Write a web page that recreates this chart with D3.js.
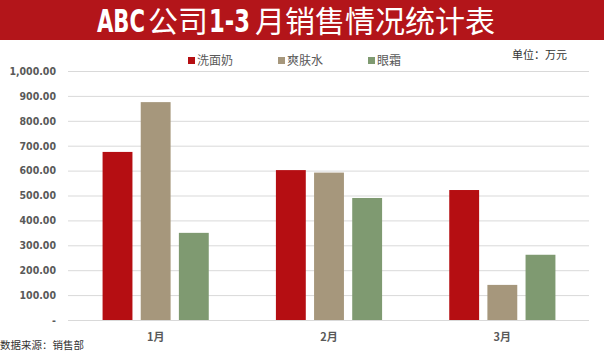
<!DOCTYPE html>
<html><head><meta charset="utf-8">
<script src="https://cdn.jsdelivr.net/npm/d3@7"></script>
<style>
html,body{margin:0;padding:0;background:#fff;}
svg{display:block;}
</style></head>
<body>
<svg id="c" width="604" height="353"></svg>
<script>
const categories = ["1月", "2月", "3月"];
const seriesNames = ["洗面奶", "爽肤水", "眼霜"];
const cleanser = [675, 602, 522];
const toner = [875, 592, 141];
const eyeCream = [350, 490, 262];
const yTicks = [0, 100, 200, 300, 400, 500, 600, 700, 800, 900, 1000];
const colors = ["#B50E12", "#A6977C", "#7F9A71"];

const seriesValues = [cleanser, toner, eyeCream];
const data = categories.map((c, i) => ({cat: c, vals: seriesNames.map((s, j) => ({key: s, value: seriesValues[j][i]}))}));

const svg = d3.select("#c");
const CJK = "'Noto Sans CJK SC', 'Noto Sans', sans-serif";
const NARROW = "'DejaVu Sans Condensed', 'Liberation Sans', sans-serif";
const TITLEFONT = "'DejaVu Sans Condensed', 'Noto Sans CJK SC', sans-serif";

// title bar
svg.append("rect").attr("x", 0).attr("y", 0).attr("width", 604).attr("height", 40).attr("fill", "#B3151A");
const title = svg.append("text").attr("y", 32).attr("fill", "#fff")
  .style("font-family", TITLEFONT).style("font-size", "30px");
const pieces = [
  {t: "ABC", x: 97, narrow: true, len: 48},
  {t: "公司", x: 148},
  {t: "1-3", x: 209, narrow: true, len: 41},
  {t: "月销售情况统计表", x: 255}
];
pieces.forEach(p => {
  const t = title.append("tspan").attr("x", p.x).text(p.t);
  if (p.narrow) {
    t.style("font-weight", "bold").style("font-size", "32px")
      .attr("textLength", p.len).attr("lengthAdjust", "spacingAndGlyphs");
  }
});

const x0 = d3.scaleBand().domain(categories).range([69, 589]).padding(0);
const x1 = d3.scaleBand().domain(seriesNames).range([0, x0.bandwidth()]).paddingInner(0.217).paddingOuter(0.88);
const y = d3.scaleLinear().domain([0, 1000]).range([320, 71]);
const color = d3.scaleOrdinal().domain(seriesNames).range(colors);

// gridlines
const yAxis = d3.axisLeft(y).tickValues(yTicks).tickSize(-521)
  .tickFormat(d => d === 0 ? "-" : d3.format(",.2f")(d));
const ga = svg.append("g").attr("transform", "translate(68,0)").call(yAxis);
ga.select(".domain").remove();
ga.selectAll(".tick line").attr("stroke", "#D9D9D9").attr("stroke-width", 1);
ga.selectAll(".tick text").attr("x", -12).attr("fill", "#595959")
  .style("font-family", NARROW).style("font-weight", "bold").style("font-size", "10.5px");

// bars
svg.append("g").selectAll("g").data(data).join("g")
  .attr("transform", d => `translate(${x0(d.cat)},0)`)
  .selectAll("rect").data(d => d.vals).join("rect")
  .attr("x", d => x1(d.key)).attr("width", x1.bandwidth())
  .attr("y", d => y(d.value)).attr("height", d => y(0) - y(d.value))
  .attr("fill", d => color(d.key));

// x axis labels
const xAxis = d3.axisBottom(x0).tickSize(0).tickPadding(13);
const gx = svg.append("g").attr("transform", "translate(0,320)").call(xAxis);
gx.select(".domain").remove();
gx.selectAll(".tick text").attr("fill", "#595959")
  .style("font-family", CJK).style("font-weight", "bold").style("font-size", "11px");

// legend
const lx = [188, 278, 368];
const lg = svg.append("g").selectAll("g").data(seriesNames).join("g")
  .attr("transform", (d, i) => `translate(${lx[i]},57)`);
lg.append("rect").attr("width", 7).attr("height", 7).attr("fill", d => color(d));
lg.append("text").attr("x", 9).attr("y", 3.5).attr("dy", "0.35em").text(d => d)
  .attr("fill", "#595959").style("font-family", CJK).style("font-size", "12px");

// unit
svg.append("text").attr("x", 567).attr("y", 55).attr("dy", "0.35em").attr("text-anchor", "end")
  .text("单位：万元").attr("fill", "#333").style("font-family", CJK).style("font-size", "11px");

// source
svg.append("text").attr("x", 0).attr("y", 345).attr("dy", "0.35em")
  .text("数据来源：销售部").attr("fill", "#333").style("font-family", CJK).style("font-size", "10.5px");
</script>
</body></html>
